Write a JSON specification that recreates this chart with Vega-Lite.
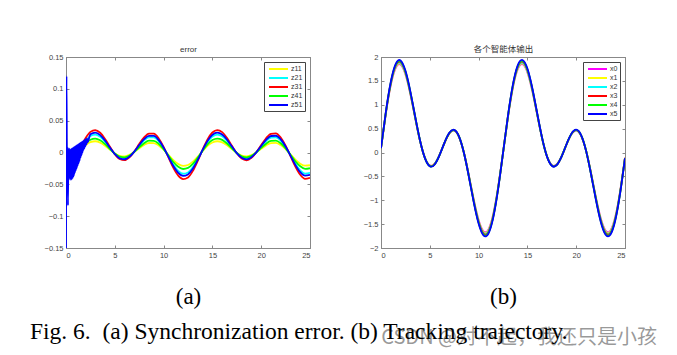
{
  "$schema": "https://vega.github.io/schema/vega-lite/v6.json",
  "background": "white",
  "padding": {"left": 30, "top": 44, "right": 5, "bottom": 5},
  "spacing": 48,
  "resolve": {"scale": {"color": "independent"}},
  "title": {"text": "Fig. 6.\u00a0\u00a0(a) Synchronization error. (b) Tracking trajectory.", "orient": "bottom", "anchor": "start", "frame": "group", "dx": -36, "offset": -28, "font": "Liberation Serif", "fontSize": 23.5, "fontWeight": "normal", "color": "#000000"},
  "datasets": {
    "err": [
      {"t":0,"z11":0.07,"z21":0.06,"z31":0.1,"z41":0.05,"z51":-0.15},
      {"t":0.05,"z11":-0.03,"z21":-0.03,"z31":-0.03,"z41":-0.03,"z51":0.12},
      {"t":0.1,"z51":-0.02},
      {"t":0.15,"z51":0.009},
      {"t":0.2,"z51":-0.083},
      {"t":0.25,"z51":0.006},
      {"t":0.3,"z51":-0.04},
      {"t":0.35,"z51":0.006},
      {"t":0.4,"z51":-0.042},
      {"t":0.45,"z51":0.005},
      {"t":0.5,"z11":-0.0136,"z21":-0.0217,"z31":-0.0271,"z41":-0.0168,"z51":-0.043},
      {"t":0.55,"z51":0.006},
      {"t":0.6,"z51":-0.042},
      {"t":0.65,"z51":0.007},
      {"t":0.7,"z51":-0.04},
      {"t":0.75,"z51":0.008},
      {"t":0.8,"z51":-0.037},
      {"t":0.85,"z51":0.009},
      {"t":0.9,"z51":-0.033},
      {"t":0.95,"z51":0.01},
      {"t":1.0,"z11":-0.0054,"z21":-0.0086,"z31":-0.0108,"z41":-0.0067,"z51":-0.029},
      {"t":1.05,"z51":0.011},
      {"t":1.1,"z51":-0.025},
      {"t":1.15,"z51":0.012},
      {"t":1.2,"z51":-0.021},
      {"t":1.25,"z51":0.013},
      {"t":1.3,"z51":-0.017},
      {"t":1.35,"z51":0.014},
      {"t":1.4,"z51":-0.013},
      {"t":1.45,"z51":0.015},
      {"t":1.5,"z11":0.0034,"z21":0.0054,"z31":0.0068,"z41":0.0042,"z51":-0.008},
      {"t":1.55,"z51":0.016},
      {"t":1.6,"z51":-0.004},
      {"t":1.65,"z51":0.017},
      {"t":1.7,"z51":0.0},
      {"t":1.75,"z51":0.018},
      {"t":1.8,"z51":0.004},
      {"t":1.85,"z51":0.019},
      {"t":1.9,"z51":0.007},
      {"t":1.95,"z51":0.02},
      {"t":2.0,"z11":0.0112,"z21":0.0178,"z31":0.0223,"z41":0.0138,"z51":0.01},
      {"t":2.05,"z51":0.021},
      {"t":2.1,"z51":0.013},
      {"t":2.15,"z51":0.022},
      {"t":2.2,"z51":0.016},
      {"t":2.5,"z11":0.0162,"z21":0.0259,"z31":0.0324,"z41":0.0201,"z51":0.0285},
      {"t":3.0,"z11":0.0177,"z21":0.0282,"z31":0.0353,"z41":0.0219,"z51":0.0311},
      {"t":3.5,"z11":0.0155,"z21":0.0248,"z31":0.031,"z41":0.0192,"z51":0.0273},
      {"t":4.0,"z11":0.0107,"z21":0.017,"z31":0.0213,"z41":0.0132,"z51":0.0187},
      {"t":4.5,"z11":0.0045,"z21":0.0071,"z31":0.0089,"z41":0.0055,"z51":0.0078},
      {"t":5.0,"z11":-0.0014,"z21":-0.0022,"z31":-0.0027,"z41":-0.0017,"z51":-0.0024},
      {"t":5.5,"z11":-0.0052,"z21":-0.0082,"z31":-0.0103,"z41":-0.0064,"z51":-0.0091},
      {"t":6.0,"z11":-0.0061,"z21":-0.0097,"z31":-0.0121,"z41":-0.0075,"z51":-0.0106},
      {"t":6.5,"z11":-0.0038,"z21":-0.0061,"z31":-0.0076,"z41":-0.0047,"z51":-0.0067},
      {"t":7.0,"z11":0.0009,"z21":0.0014,"z31":0.0017,"z41":0.0011,"z51":0.0015},
      {"t":7.5,"z11":0.0067,"z21":0.0106,"z31":0.0133,"z41":0.0082,"z51":0.0117},
      {"t":8.0,"z11":0.0119,"z21":0.019,"z31":0.0237,"z41":0.0147,"z51":0.0209},
      {"t":8.5,"z11":0.0149,"z21":0.0238,"z31":0.0298,"z41":0.0185,"z51":0.0262},
      {"t":9.0,"z11":0.0148,"z21":0.0236,"z31":0.0295,"z41":0.0183,"z51":0.026},
      {"t":9.5,"z11":0.011,"z21":0.0176,"z31":0.022,"z41":0.0136,"z51":0.0194},
      {"t":10.0,"z11":0.0044,"z21":0.007,"z31":0.0087,"z41":0.0054,"z51":0.0077},
      {"t":10.5,"z11":-0.0039,"z21":-0.0062,"z31":-0.0078,"z41":-0.0048,"z51":-0.0069},
      {"t":11.0,"z11":-0.0121,"z21":-0.0193,"z31":-0.0241,"z41":-0.0149,"z51":-0.0212},
      {"t":11.5,"z11":-0.0182,"z21":-0.029,"z31":-0.0363,"z41":-0.0225,"z51":-0.0319},
      {"t":12.0,"z11":-0.0209,"z21":-0.0334,"z31":-0.0417,"z41":-0.0259,"z51":-0.0367},
      {"t":12.5,"z11":-0.0196,"z21":-0.0313,"z31":-0.0391,"z41":-0.0242,"z51":-0.0344},
      {"t":13.0,"z11":-0.0144,"z21":-0.023,"z31":-0.0288,"z41":-0.0179,"z51":-0.0253},
      {"t":13.5,"z11":-0.0066,"z21":-0.0105,"z31":-0.0131,"z41":-0.0081,"z51":-0.0115},
      {"t":14.0,"z11":0.0023,"z21":0.0037,"z31":0.0046,"z41":0.0029,"z51":0.004},
      {"t":14.5,"z11":0.0103,"z21":0.0164,"z31":0.0205,"z41":0.0127,"z51":0.018},
      {"t":15.0,"z11":0.0157,"z21":0.0251,"z31":0.0314,"z41":0.0195,"z51":0.0276},
      {"t":15.5,"z11":0.0177,"z21":0.0282,"z31":0.0353,"z41":0.0219,"z51":0.0311},
      {"t":16.0,"z11":0.016,"z21":0.0256,"z31":0.032,"z41":0.0198,"z51":0.0282},
      {"t":16.5,"z11":0.0114,"z21":0.0182,"z31":0.0228,"z41":0.0141,"z51":0.0201},
      {"t":17.0,"z11":0.0053,"z21":0.0085,"z31":0.0106,"z41":0.0066,"z51":0.0093},
      {"t":17.5,"z11":-0.0007,"z21":-0.001,"z31":-0.0013,"z41":-0.0008,"z51":-0.0011},
      {"t":18.0,"z11":-0.0048,"z21":-0.0077,"z31":-0.0096,"z41":-0.006,"z51":-0.0084},
      {"t":18.5,"z11":-0.0061,"z21":-0.0098,"z31":-0.0122,"z41":-0.0076,"z51":-0.0107},
      {"t":19.0,"z11":-0.0042,"z21":-0.0067,"z31":-0.0084,"z41":-0.0052,"z51":-0.0074},
      {"t":19.5,"z11":0.0002,"z21":0.0002,"z31":0.0003,"z41":0.0002,"z51":0.0003},
      {"t":20.0,"z11":0.0059,"z21":0.0094,"z31":0.0117,"z41":0.0073,"z51":0.0103},
      {"t":20.5,"z11":0.0112,"z21":0.0179,"z31":0.0224,"z41":0.0139,"z51":0.0197},
      {"t":21.0,"z11":0.0147,"z21":0.0235,"z31":0.0294,"z41":0.0182,"z51":0.0259},
      {"t":21.5,"z11":0.015,"z21":0.0239,"z31":0.0299,"z41":0.0185,"z51":0.0263},
      {"t":22.0,"z11":0.0117,"z21":0.0187,"z31":0.0234,"z41":0.0145,"z51":0.0206},
      {"t":22.5,"z11":0.0054,"z21":0.0086,"z31":0.0107,"z41":0.0066,"z51":0.0094},
      {"t":23.0,"z11":-0.0028,"z21":-0.0045,"z31":-0.0056,"z41":-0.0035,"z51":-0.0049},
      {"t":23.5,"z11":-0.0111,"z21":-0.0177,"z31":-0.0221,"z41":-0.0137,"z51":-0.0194},
      {"t":24.0,"z11":-0.0175,"z21":-0.028,"z31":-0.035,"z41":-0.0217,"z51":-0.0308},
      {"t":24.5,"z11":-0.0207,"z21":-0.0331,"z31":-0.0414,"z41":-0.0257,"z51":-0.0364},
      {"t":25.0,"z11":-0.02,"z21":-0.0319,"z31":-0.0399,"z41":-0.0247,"z51":-0.0351}
    ],
    "traj": [
      {"t":0,"x0":0.09,"x1":0.09,"x2":0.09,"x3":0.09,"x4":0.09,"x5":0.09},
      {"t":0.5,"x0":0.817,"x1":0.824,"x2":0.831,"x3":0.838,"x4":0.846,"x5":0.853},
      {"t":1,"x0":1.411,"x1":1.424,"x2":1.437,"x3":1.451,"x4":1.464,"x5":1.477},
      {"t":1.5,"x0":1.769,"x1":1.786,"x2":1.803,"x3":1.819,"x4":1.836,"x5":1.853},
      {"t":2,"x0":1.841,"x1":1.858,"x2":1.876,"x3":1.893,"x4":1.911,"x5":1.928},
      {"t":2.5,"x0":1.638,"x1":1.653,"x2":1.668,"x3":1.684,"x4":1.699,"x5":1.715},
      {"t":3,"x0":1.229,"x1":1.24,"x2":1.251,"x3":1.263,"x4":1.274,"x5":1.286},
      {"t":3.5,"x0":0.723,"x1":0.73,"x2":0.736,"x3":0.742,"x4":0.749,"x5":0.755},
      {"t":4,"x0":0.243,"x1":0.244,"x2":0.246,"x3":0.247,"x4":0.249,"x5":0.25},
      {"t":4.5,"x0":-0.109,"x1":-0.111,"x2":-0.113,"x3":-0.115,"x4":-0.117,"x5":-0.119},
      {"t":5,"x0":-0.27,"x1":-0.274,"x2":-0.278,"x3":-0.281,"x4":-0.285,"x5":-0.288},
      {"t":5.5,"x0":-0.234,"x1":-0.237,"x2":-0.24,"x3":-0.244,"x4":-0.247,"x5":-0.25},
      {"t":6,"x0":-0.048,"x1":-0.05,"x2":-0.051,"x3":-0.052,"x4":-0.054,"x5":-0.055},
      {"t":6.5,"x0":0.197,"x1":0.198,"x2":0.199,"x3":0.2,"x4":0.201,"x5":0.202},
      {"t":7,"x0":0.396,"x1":0.399,"x2":0.402,"x3":0.405,"x4":0.408,"x5":0.412},
      {"t":7.5,"x0":0.456,"x1":0.46,"x2":0.464,"x3":0.467,"x4":0.471,"x5":0.475},
      {"t":8,"x0":0.323,"x1":0.325,"x2":0.327,"x3":0.329,"x4":0.332,"x5":0.334},
      {"t":8.5,"x0":-0.007,"x1":-0.008,"x2":-0.009,"x3":-0.01,"x4":-0.011,"x5":-0.012},
      {"t":9,"x0":-0.475,"x1":-0.481,"x2":-0.487,"x3":-0.492,"x4":-0.498,"x5":-0.504},
      {"t":9.5,"x0":-0.985,"x1":-0.995,"x2":-1.006,"x3":-1.017,"x4":-1.028,"x5":-1.038},
      {"t":10,"x0":-1.413,"x1":-1.428,"x2":-1.443,"x3":-1.458,"x4":-1.473,"x5":-1.488},
      {"t":10.5,"x0":-1.649,"x1":-1.666,"x2":-1.683,"x3":-1.701,"x4":-1.718,"x5":-1.736},
      {"t":11,"x0":-1.616,"x1":-1.633,"x2":-1.65,"x3":-1.667,"x4":-1.684,"x5":-1.701},
      {"t":11.5,"x0":-1.294,"x1":-1.308,"x2":-1.321,"x3":-1.335,"x4":-1.349,"x5":-1.363},
      {"t":12,"x0":-0.726,"x1":-0.734,"x2":-0.742,"x3":-0.75,"x4":-0.759,"x5":-0.767},
      {"t":12.5,"x0":-0.01,"x1":-0.011,"x2":-0.012,"x3":-0.013,"x4":-0.014,"x5":-0.015},
      {"t":13,"x0":0.725,"x1":0.732,"x2":0.738,"x3":0.744,"x4":0.751,"x5":0.757},
      {"t":13.5,"x0":1.344,"x1":1.356,"x2":1.369,"x3":1.381,"x4":1.394,"x5":1.406},
      {"t":14,"x0":1.738,"x1":1.754,"x2":1.771,"x3":1.787,"x4":1.804,"x5":1.82},
      {"t":14.5,"x0":1.848,"x1":1.866,"x2":1.883,"x3":1.901,"x4":1.918,"x5":1.936},
      {"t":15,"x0":1.678,"x1":1.694,"x2":1.71,"x3":1.726,"x4":1.742,"x5":1.758},
      {"t":15.5,"x0":1.291,"x1":1.303,"x2":1.315,"x3":1.327,"x4":1.339,"x5":1.351},
      {"t":16,"x0":0.792,"x1":0.799,"x2":0.806,"x3":0.813,"x4":0.82,"x5":0.827},
      {"t":16.5,"x0":0.301,"x1":0.303,"x2":0.305,"x3":0.307,"x4":0.309,"x5":0.311},
      {"t":17,"x0":-0.073,"x1":-0.075,"x2":-0.076,"x3":-0.078,"x4":-0.08,"x5":-0.081},
      {"t":17.5,"x0":-0.261,"x1":-0.264,"x2":-0.268,"x3":-0.271,"x4":-0.275,"x5":-0.278},
      {"t":18,"x0":-0.249,"x1":-0.252,"x2":-0.256,"x3":-0.259,"x4":-0.262,"x5":-0.266},
      {"t":18.5,"x0":-0.079,"x1":-0.08,"x2":-0.082,"x3":-0.084,"x4":-0.085,"x5":-0.087},
      {"t":19,"x0":0.165,"x1":0.165,"x2":0.166,"x3":0.167,"x4":0.168,"x5":0.168},
      {"t":19.5,"x0":0.376,"x1":0.379,"x2":0.382,"x3":0.385,"x4":0.387,"x5":0.39},
      {"t":20,"x0":0.459,"x1":0.463,"x2":0.466,"x3":0.47,"x4":0.474,"x5":0.477},
      {"t":20.5,"x0":0.352,"x1":0.355,"x2":0.357,"x3":0.36,"x4":0.362,"x5":0.365},
      {"t":21,"x0":0.047,"x1":0.047,"x2":0.047,"x3":0.046,"x4":0.046,"x5":0.045},
      {"t":21.5,"x0":-0.409,"x1":-0.414,"x2":-0.419,"x3":-0.424,"x4":-0.429,"x5":-0.434},
      {"t":22,"x0":-0.919,"x1":-0.929,"x2":-0.939,"x3":-0.949,"x4":-0.959,"x5":-0.969},
      {"t":22.5,"x0":-1.365,"x1":-1.38,"x2":-1.394,"x3":-1.409,"x4":-1.423,"x5":-1.438},
      {"t":23,"x0":-1.632,"x1":-1.649,"x2":-1.666,"x3":-1.683,"x4":-1.701,"x5":-1.718},
      {"t":23.5,"x0":-1.637,"x1":-1.654,"x2":-1.671,"x3":-1.688,"x4":-1.706,"x5":-1.723},
      {"t":24,"x0":-1.352,"x1":-1.367,"x2":-1.381,"x3":-1.396,"x4":-1.41,"x5":-1.424},
      {"t":24.5,"x0":-0.813,"x1":-0.822,"x2":-0.831,"x3":-0.84,"x4":-0.849,"x5":-0.858},
      {"t":25,"x0":-0.109,"x1":-0.111,"x2":-0.113,"x3":-0.115,"x4":-0.117,"x5":-0.119}
    ]
  },
  "hconcat": [
    {
      "width": 244,
      "height": 191,
      "data": {"name": "err"},
      "transform": [
        {"fold": ["z11", "z21", "z31", "z41", "z51"], "as": ["series", "value"]},
        {"filter": "isValid(datum.value)"}
      ],
      "layer": [
        {
          "mark": {"type": "line", "interpolate": "monotone", "strokeWidth": 1.8, "clip": true},
          "encoding": {
            "x": {"field": "t", "type": "quantitative", "scale": {"domain": [0, 25], "nice": false},
                  "axis": {"values": [0, 5, 10, 15, 20, 25], "title": "(a)", "titlePadding": 27}},
            "y": {"field": "value", "type": "quantitative", "scale": {"domain": [-0.15, 0.15], "nice": false},
                  "axis": {"values": [-0.15, -0.1, -0.05, 0, 0.05, 0.1, 0.15], "format": ".2~f", "title": null}},
            "color": {"field": "series", "type": "nominal",
                      "scale": {"domain": ["z11", "z21", "z31", "z41", "z51"], "range": ["#ffff00", "#00ffff", "#ff0000", "#00ff00", "#0000ff"]},
                      "legend": {"title": null}}
          }
        },
        {
          "mark": {"type": "point", "opacity": 0},
          "encoding": {
            "x": {"field": "t", "type": "quantitative", "scale": {"domain": [0, 25], "nice": false},
                  "axis": {"orient": "top", "values": [0, 5, 10, 15, 20, 25], "labels": false, "title": "error", "titleFont": "Liberation Sans", "titleFontSize": 8, "titleColor": "#333333", "titlePadding": 3}},
            "y": {"field": "value", "type": "quantitative", "scale": {"domain": [-0.15, 0.15], "nice": false},
                  "axis": {"orient": "right", "values": [-0.15, -0.1, -0.05, 0, 0.05, 0.1, 0.15], "labels": false, "title": null}}
          }
        }
      ],
      "resolve": {"axis": {"x": "independent", "y": "independent"}}
    },
    {
      "width": 244,
      "height": 191,
      "title": {"text": "CSDN @对不起，我还只是小孩", "orient": "bottom", "anchor": "end", "frame": "group", "dx": 32, "offset": 19, "font": "Noto Sans CJK SC", "fontSize": 20, "fontWeight": "normal", "color": "rgba(120,120,120,0.75)"},
      "data": {"name": "traj"},
      "transform": [
        {"fold": ["x0", "x1", "x2", "x3", "x4", "x5"], "as": ["series", "value"]}
      ],
      "layer": [
        {
          "mark": {"type": "line", "interpolate": "natural", "strokeWidth": 1.8, "clip": true},
          "encoding": {
            "x": {"field": "t", "type": "quantitative", "scale": {"domain": [0, 25], "nice": false},
                  "axis": {"values": [0, 5, 10, 15, 20, 25], "title": "(b)", "titlePadding": 27}},
            "y": {"field": "value", "type": "quantitative", "scale": {"domain": [-2, 2], "nice": false},
                  "axis": {"values": [-2, -1.5, -1, -0.5, 0, 0.5, 1, 1.5, 2], "format": "~g", "title": null}},
            "color": {"field": "series", "type": "nominal",
                      "scale": {"domain": ["x0", "x1", "x2", "x3", "x4", "x5"], "range": ["#ff00ff", "#ffff00", "#00ffff", "#ff0000", "#00ff00", "#0000ff"]},
                      "legend": {"title": null}}
          }
        },
        {
          "mark": {"type": "point", "opacity": 0},
          "encoding": {
            "x": {"field": "t", "type": "quantitative", "scale": {"domain": [0, 25], "nice": false},
                  "axis": {"orient": "top", "values": [0, 5, 10, 15, 20, 25], "labels": false, "title": "各个智能体输出", "titleFont": "Noto Sans CJK SC", "titleFontSize": 8.5, "titleColor": "#333333", "titlePadding": 3}},
            "y": {"field": "value", "type": "quantitative", "scale": {"domain": [-2, 2], "nice": false},
                  "axis": {"orient": "right", "values": [-2, -1.5, -1, -0.5, 0, 0.5, 1, 1.5, 2], "labels": false, "title": null}}
          }
        }
      ],
      "resolve": {"axis": {"x": "independent", "y": "independent"}}
    }
  ],
  "config": {
    "view": {"stroke": "#888888", "strokeWidth": 1},
    "axis": {"domainColor": "#888888", "tickColor": "#888888", "tickSize": -3, "labelColor": "#444444", "labelFont": "Liberation Sans", "labelFontSize": 7.5, "labelPadding": 6, "grid": false, "titleFont": "Liberation Serif", "titleFontSize": 23, "titleFontWeight": "normal", "titleColor": "#000000"},
    "legend": {"orient": "top-right", "offset": 5, "symbolType": "M-0.5,0H4.25", "symbolSize": 64, "symbolStrokeWidth": 2, "labelFont": "Liberation Sans", "labelFontSize": 7, "labelColor": "#333333", "fillColor": "white", "strokeColor": "#444444", "padding": 2, "rowPadding": 0, "labelOffset": 15}
  }
}
